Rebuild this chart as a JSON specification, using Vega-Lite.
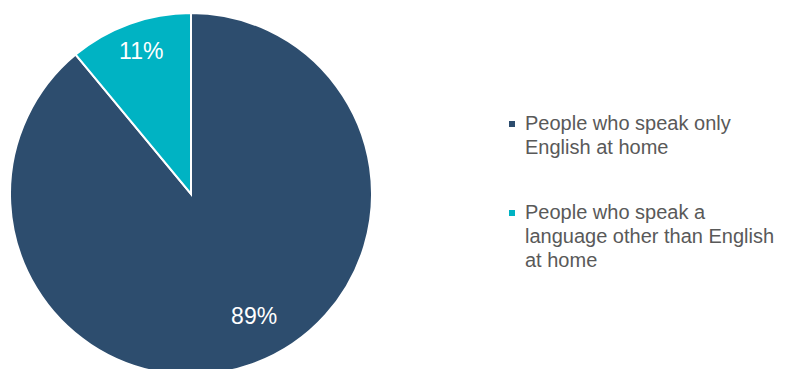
{
  "$schema": "https://vega.github.io/schema/vega-lite/v6.json",
  "width": 382,
  "height": 360,
  "padding": {"left": 0, "top": 9, "right": 0, "bottom": 0},
  "background": "white",
  "config": {
    "view": {"stroke": null},
    "font": "Liberation Sans",
    "style": {"guide-label": {"lineHeight": 24}}
  },
  "data": {
    "values": [
      {"group": "People who speak only|English at home", "share": 89, "label": "89%", "rank": 1},
      {"group": "People who speak a|language other than English|at home", "share": 11, "label": "11%", "rank": 2}
    ]
  },
  "encoding": {
    "theta": {"field": "share", "type": "quantitative", "stack": true},
    "order": {"field": "rank", "type": "quantitative"}
  },
  "layer": [
    {
      "mark": {"type": "arc", "radius": 181, "stroke": "white", "strokeWidth": 2},
      "encoding": {
        "color": {
          "field": "group",
          "type": "nominal",
          "scale": {
            "domain": ["People who speak only|English at home", "People who speak a|language other than English|at home"],
            "range": ["#2D4D6E", "#00B3C3"]
          },
          "legend": {
            "title": null,
            "orient": "none",
            "legendX": 502,
            "legendY": 100,
            "symbolType": "square",
            "symbolSize": 36,
            "symbolStrokeWidth": 0,
            "labelFont": "Liberation Sans",
            "labelFontSize": 20,
            "labelColor": "#595959",
            "labelLimit": 400,
            "labelOffset": 3,
            "rowPadding": 45,
            "labelExpr": "split(datum.label, '|')"
          }
        }
      }
    },
    {
      "mark": {"type": "text", "radius": 147, "dy": -4, "fontSize": 23, "color": "white", "font": "Liberation Sans"},
      "encoding": {
        "text": {"field": "label"},
        "opacity": {"condition": {"test": "datum.rank == 2", "value": 1}, "value": 0}
      }
    },
    {
      "mark": {"type": "text", "radius": 142, "dy": -4, "thetaOffset": -0.115, "fontSize": 23, "color": "white", "font": "Liberation Sans"},
      "encoding": {
        "text": {"field": "label"},
        "opacity": {"condition": {"test": "datum.rank == 1", "value": 1}, "value": 0}
      }
    }
  ]
}
